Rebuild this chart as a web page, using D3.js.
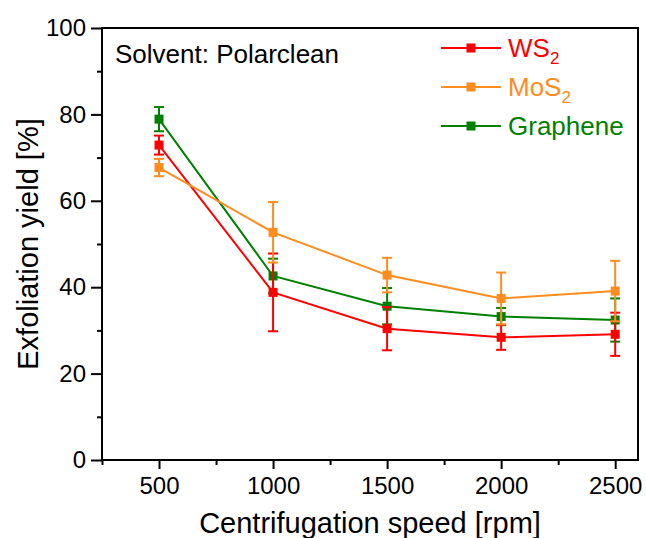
<!DOCTYPE html>
<html>
<head>
<meta charset="utf-8">
<script src="https://cdn.jsdelivr.net/npm/d3@7"></script>
<style>
  body { margin: 0; background: #fff; }
  svg { display: block; font-family: "Liberation Sans", Arial, sans-serif; }
</style>
</head>
<body>
<div id="chart"></div>
<script>
// values
const speeds = [500, 1000, 1500, 2000, 2500];
const ws2 = [72.9, 38.8, 30.4, 28.4, 29.1];
const ws2Err = [2.2, 9.0, 5.0, 2.9, 5.0];
const mos2 = [67.7, 52.7, 42.8, 37.4, 39.1];
const mos2Err = [2.0, 7.0, 4.0, 6.0, 7.0];
const graphene = [78.9, 42.6, 35.6, 33.2, 32.4];
const grapheneErr = [2.8, 4.0, 4.2, 2.0, 5.0];
const xTicks = [500, 1000, 1500, 2000, 2500];
const yTicks = [0, 20, 40, 60, 80, 100];

const series = [
  { name: 'WS', sub: '2', color: '#ff0000', values: ws2, err: ws2Err },
  { name: 'MoS', sub: '2', color: '#ff8c1e', values: mos2, err: mos2Err },
  { name: 'Graphene', sub: '', color: '#008000', values: graphene, err: grapheneErr }
];
// drawing order seen in the picture (graphene underneath)
const drawOrder = [2, 0, 1];

const W = 646, H = 538;
const margin = { top: 28, right: 8, bottom: 78, left: 102 };
const width = W - margin.left - margin.right;
const height = H - margin.top - margin.bottom;

const svg = d3.select('#chart').append('svg')
  .attr('width', W)
  .attr('height', H);

const g = svg.append('g')
  .attr('transform', `translate(${margin.left},${margin.top})`);

const x = d3.scaleLinear().domain([250, 2600]).range([0, width]);
const y = d3.scaleLinear().domain([0, 100]).range([height, 0]);

// minor ticks
g.append('g')
  .attr('transform', `translate(0,${height})`)
  .call(d3.axisBottom(x).tickValues(d3.range(250, 2600, 500)).tickSize(5).tickFormat(''))
  .call(a => a.select('.domain').remove())
  .selectAll('line').attr('stroke', '#000').attr('stroke-width', 2);

g.append('g')
  .call(d3.axisLeft(y).tickValues(d3.range(10, 100, 20)).tickSize(5).tickFormat(''))
  .call(a => a.select('.domain').remove())
  .selectAll('line').attr('stroke', '#000').attr('stroke-width', 2);

// major ticks
const xAxis = g.append('g')
  .attr('transform', `translate(0,${height})`)
  .call(d3.axisBottom(x).tickValues(xTicks).tickFormat(d3.format('d'))
    .tickSize(9).tickPadding(8).tickSizeOuter(0));
xAxis.select('.domain').remove();
xAxis.selectAll('line').attr('stroke', '#000').attr('stroke-width', 2);
xAxis.selectAll('text').attr('font-size', 24).attr('fill', '#000')
  .attr('font-family', '"Liberation Sans", Arial, sans-serif');

const yAxis = g.append('g')
  .call(d3.axisLeft(y).tickValues(yTicks).tickSize(11).tickPadding(5).tickSizeOuter(0));
yAxis.select('.domain').remove();
yAxis.selectAll('line').attr('stroke', '#000').attr('stroke-width', 2);
yAxis.selectAll('text').attr('font-size', 24).attr('fill', '#000')
  .attr('font-family', '"Liberation Sans", Arial, sans-serif');

// frame
g.append('rect')
  .attr('x', 0).attr('y', 0)
  .attr('width', width).attr('height', height)
  .attr('fill', 'none')
  .attr('stroke', '#000')
  .attr('stroke-width', 2);

// axis titles
svg.append('text')
  .attr('x', margin.left + width / 2)
  .attr('y', 533)
  .attr('text-anchor', 'middle')
  .attr('font-size', 29)
  .text('Centrifugation speed [rpm]');

svg.append('text')
  .attr('transform', `translate(38,${margin.top + height / 2}) rotate(-90)`)
  .attr('text-anchor', 'middle')
  .attr('font-size', 29)
  .text('Exfoliation yield [%]');

// annotation
g.append('text')
  .attr('x', 13)
  .attr('y', 35)
  .attr('font-size', 26)
  .text('Solvent: Polarclean');

const line = d3.line()
  .x(d => x(d[0]))
  .y(d => y(d[1]));

const ms = 9, cap = 5;

drawOrder.forEach(i => {
  const s = series[i];
  const pts = speeds.map((sp, j) => [sp, s.values[j], s.err[j]]);
  const sg = g.append('g');

  sg.append('path')
    .datum(pts)
    .attr('d', line)
    .attr('fill', 'none')
    .attr('stroke', s.color)
    .attr('stroke-width', 2);

  const eb = sg.selectAll('.eb').data(pts).enter().append('g');
  eb.append('line')
    .attr('x1', d => x(d[0])).attr('x2', d => x(d[0]))
    .attr('y1', d => y(d[1] + d[2])).attr('y2', d => y(d[1] - d[2]))
    .attr('stroke', s.color).attr('stroke-width', 2);
  eb.append('line')
    .attr('x1', d => x(d[0]) - cap).attr('x2', d => x(d[0]) + cap)
    .attr('y1', d => y(d[1] + d[2])).attr('y2', d => y(d[1] + d[2]))
    .attr('stroke', s.color).attr('stroke-width', 2);
  eb.append('line')
    .attr('x1', d => x(d[0]) - cap).attr('x2', d => x(d[0]) + cap)
    .attr('y1', d => y(d[1] - d[2])).attr('y2', d => y(d[1] - d[2]))
    .attr('stroke', s.color).attr('stroke-width', 2);

  sg.selectAll('.mk').data(pts).enter().append('rect')
    .attr('x', d => x(d[0]) - ms / 2)
    .attr('y', d => y(d[1]) - ms / 2)
    .attr('width', ms).attr('height', ms)
    .attr('fill', s.color);
});

// legend
const legend = svg.append('g').attr('transform', 'translate(441,48)');
series.forEach((s, i) => {
  const row = legend.append('g').attr('transform', `translate(0,${i * 39})`);
  row.append('line')
    .attr('x1', 0).attr('x2', 60).attr('y1', 0).attr('y2', 0)
    .attr('stroke', s.color).attr('stroke-width', 2);
  row.append('rect')
    .attr('x', 30 - ms / 2).attr('y', -ms / 2)
    .attr('width', ms).attr('height', ms)
    .attr('fill', s.color);
  const t = row.append('text')
    .attr('x', 67).attr('y', 9)
    .attr('font-size', 26)
    .attr('fill', s.color);
  t.append('tspan').text(s.name);
  if (s.sub) {
    t.append('tspan').attr('font-size', 17).attr('dy', 7).text(s.sub);
  }
});
</script>
</body>
</html>
